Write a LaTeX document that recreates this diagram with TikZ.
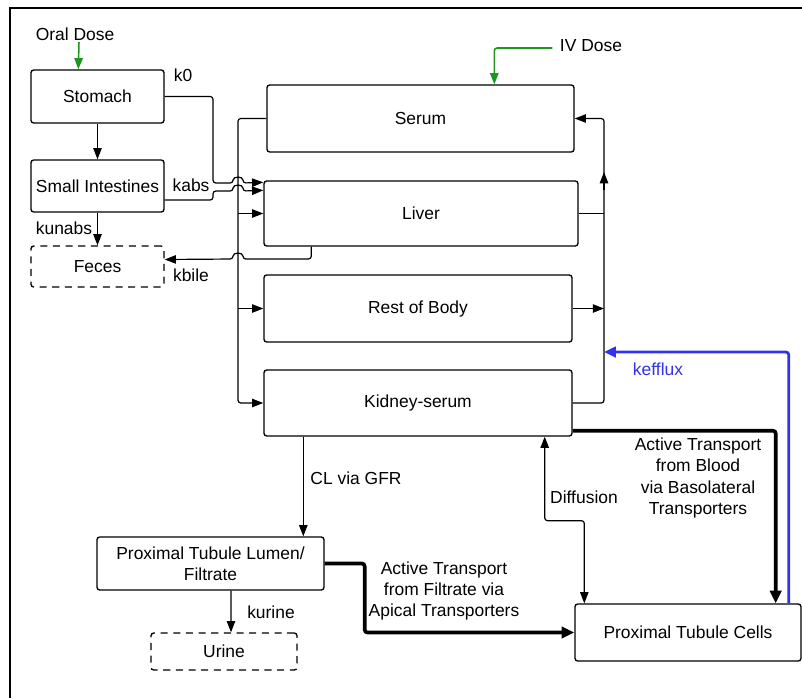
\documentclass[tikz,border=0pt]{standalone}
\usepackage{fontspec}
\setmainfont{Liberation Sans}
\usetikzlibrary{arrows.meta,calc}
\definecolor{dosegreen}{RGB}{30,150,30}
\definecolor{effluxblue}{RGB}{50,50,235}

\begin{document}
\begin{tikzpicture}[
    x=0.025cm, y=-0.025cm,
    font=\fontsize{12.4}{15}\selectfont,
    >={Triangle[length=8pt,width=6pt]},
    box/.style={draw, line width=0.95pt, rounded corners=2pt, align=center, inner sep=1pt},
    dashbox/.style={box, dash pattern=on 5pt off 4pt},
    lbl/.style={inner sep=1pt, align=center},
    flow/.style={->, line width=0.85pt, rounded corners=2pt},
    bigflow/.style={flow, line width=2.6pt, >={Triangle[length=9pt,width=8pt]}},
    dose/.style={flow, line width=1.1pt, color=dosegreen},
    efflux/.style={flow, line width=2pt, color=effluxblue, >={Triangle[length=8.5pt,width=7.5pt]}}
]
\useasboundingbox (0,0) rectangle (802,698);
\draw[line width=1.5pt] (10,698) -- (10,8) -- (802,8);

% compartments
\node[box, minimum width=3.325cm, minimum height=1.325cm] (stomach) at (97.5,96.5) {Stomach};
\node[box, minimum width=3.325cm, minimum height=1.3cm] (smallint) at (97.5,186) {Small Intestines};
\node[dashbox, minimum width=3.325cm, minimum height=1.025cm] (feces) at (97.5,266.5) {Feces};
\node[box, minimum width=7.675cm, minimum height=1.675cm] (serum) at (420.5,118.5) {Serum};
\node[box, minimum width=7.85cm, minimum height=1.625cm] (liver) at (421,213.5) {Liver};
\node[box, minimum width=7.7cm, minimum height=1.675cm] (rest) at (418,308.5) {Rest of Body};
\node[box, minimum width=7.7cm, minimum height=1.65cm] (kidney) at (418,403) {Kidney-serum};
\node[box, minimum width=5.675cm, minimum height=1.325cm] (lumen) at (210.5,563.5) {Proximal Tubule Lumen/\\Filtrate};
\node[dashbox, minimum width=3.65cm, minimum height=0.925cm] (urine) at (224,651.5) {Urine};
\node[box, minimum width=5.65cm, minimum height=1.425cm] (cells) at (688,632.5) {Proximal Tubule Cells};

% rate labels
\node[lbl] (oral) at (75,34) {Oral Dose};
\node[lbl] (iv) at (591,46) {IV Dose};
\node[lbl] (k0) at (183,75) {k0};
\node[lbl] (kabs) at (191,185) {kabs};
\node[lbl] (kunabs) at (64,228) {kunabs};
\node[lbl] (kbile) at (191,275) {kbile};
\node[lbl] (gfrlbl) at (356,478) {CL via GFR};
\node[lbl] (kurine) at (271,612) {kurine};
\node[lbl] (diff) at (584,497) {Diffusion};
\node[lbl, text=effluxblue] (kefflux) at (658,369) {kefflux};
\node[lbl] (baso) at (698,478) {Active Transport\\from Blood\\via Basolateral\\Transporters};
\node[lbl] (apical) at (444,591) {Active Transport\\from Filtrate via\\Apical Transporters};

% doses
\draw[dose] ($(oral.south)+(4,0)$) -- ($(stomach.north west)+(48,0)$);
\draw[dose] ($(iv.west)+(-6,2)$) -| ($(serum.north west)+(228,0)$);

% gut
\draw[flow] (stomach) -- (smallint);
\draw[flow] (smallint) -- (feces);
\draw[flow] (stomach.east) -| (213,183) -- (233,183) .. controls (233,176) and (243,176) .. (243,183) -- ($(liver.north west)+(0,2)$);
\draw[flow] ($(smallint.east)+(0,14)$) -| (213,191) -- (233,191) .. controls (233,184) and (243,184) .. (243,191) -- ($(liver.north west)+(0,10)$);
\draw[flow] ($(liver.south west)+(48,0)$) |- (243,259) .. controls (243,252) and (233,252) .. (233,259) -- ($(feces.east)+(0,-7)$);

% serum to tissues
\coordinate (bus) at (238,118.5);
\draw[flow] (serum.west) -- (bus) |- (kidney.west);
\draw[flow] (bus |- liver.west) -- (liver.west);
\draw[flow] (bus |- rest.west) -- (rest.west);

% tissues back to serum
\coordinate (back) at (604,118.5);
\draw[line width=0.85pt] (liver.east) -- (liver.east -| back);
\draw[flow] (rest.east) -- (rest.east -| back);
\draw[flow] (kidney.east) -| (back) -- (serum.east);
\draw[flow] (back |- 0,190) -- (back |- 0,172);

% kidney
\coordinate (gfr) at ($(kidney.south west)+(40,0)$);
\draw[flow] (gfr) -- (gfr |- lumen.north);
\draw[flow] ($(lumen.south)+(20.5,0)$) -- ($(urine.north)+(7,0)$);
\draw[bigflow] (lumen.east) -- ++(40,0) |- (cells.west);
\draw[bigflow] ($(kidney.south east)+(0,-6)$) -| ($(cells.north east)+(-26,0)$);
\draw[flow, <->] ($(kidney.south east)+(-28,0)$) -- ++(0,84) -| ($(cells.north west)+(10,0)$);
\draw[efflux] ($(cells.north east)+(-13,0)$) |- (back |- 0,352);
\end{tikzpicture}
\end{document}
